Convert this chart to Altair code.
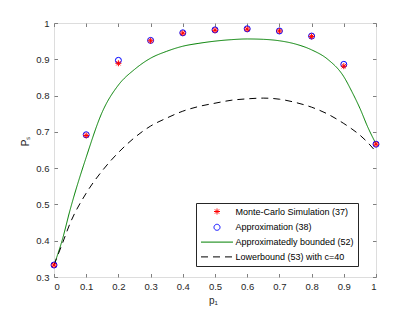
import altair as alt
import pandas as pd

# ---- data ----
S_MC = "Monte-Carlo Simulation (37)"
S_AP = "Approximation (38)"
S_GB = "Approximatedly bounded (52)"
S_LB = "Lowerbound (53) with c=40"
SERIES = [S_MC, S_AP, S_GB, S_LB]

p1_points = [0.0, 0.1, 0.2, 0.3, 0.4, 0.5, 0.6, 0.7, 0.8, 0.9, 1.0]
mc_values = [0.333, 0.690, 0.889, 0.951, 0.972, 0.980, 0.983, 0.978, 0.963, 0.881, 0.666]
approx_values = [0.333, 0.692, 0.897, 0.952, 0.973, 0.981, 0.984, 0.978, 0.964, 0.886, 0.666]

p1_curve = [0.0, 0.025, 0.05, 0.1, 0.15, 0.2, 0.25, 0.3, 0.35, 0.4, 0.45, 0.5, 0.55,
            0.6, 0.65, 0.7, 0.75, 0.8, 0.85, 0.9, 0.925, 0.95, 0.975, 1.0]
bounded_values = [0.333, 0.400, 0.485, 0.630, 0.755, 0.829, 0.872, 0.903, 0.922, 0.936,
                  0.944, 0.950, 0.954, 0.956, 0.955, 0.951, 0.942, 0.926, 0.900, 0.852,
                  0.811, 0.765, 0.712, 0.667]
lower_values = [0.333, 0.390, 0.448, 0.531, 0.593, 0.643, 0.684, 0.716, 0.738, 0.757,
                0.770, 0.779, 0.787, 0.791, 0.793, 0.790, 0.781, 0.768, 0.749, 0.723,
                0.708, 0.691, 0.670, 0.645]

x_ticks = [0, 0.1, 0.2, 0.3, 0.4, 0.5, 0.6, 0.7, 0.8, 0.9, 1]
y_ticks = [0.3, 0.4, 0.5, 0.6, 0.7, 0.8, 0.9, 1]

pts_mc = pd.DataFrame({"p1": p1_points, "Ps": mc_values, "series": S_MC})
pts_ap = pd.DataFrame({"p1": p1_points, "Ps": approx_values, "series": S_AP})
curves = pd.concat([
    pd.DataFrame({"p1": p1_curve, "Ps": bounded_values, "series": S_GB}),
    pd.DataFrame({"p1": p1_curve, "Ps": lower_values, "series": S_LB}),
])

# ---- styling ----
W, H = 322, 254
FONT = "Liberation Sans"
FRAME = "#7f7f7f"
TXT = "#262626"
ASTERISK = "M-1,0L1,0M0,-1L0,1M-0.7,-0.7L0.7,0.7M-0.7,0.7L0.7,-0.7"
LINE = "M-5.333,0L5.333,0"

legend = alt.Legend(
    title=None, orient="none", legendX=142, legendY=180,
    padding=4, rowPadding=4.8, symbolSize=36, symbolStrokeWidth=1,
    symbolOffset=12.5, labelOffset=14, labelFontSize=9, labelFont=FONT,
    labelColor="#000000", strokeColor="#262626", fillColor="#ffffff",
    cornerRadius=0, labelExpr="datum.label + '\u2003\u2003\u2003\u2002\u2009'",
)

color = alt.Color("series:N", legend=legend, scale=alt.Scale(
    domain=SERIES, range=["#ff0000", "#0000ff", "#008000", "#000000"]))
shape = alt.Shape("series:N", legend=legend, scale=alt.Scale(
    domain=SERIES, range=[ASTERISK, "circle", LINE, LINE]))
dash = alt.StrokeDash("series:N", legend=legend, scale=alt.Scale(
    domain=SERIES, range=[[1, 0], [1, 0], [1, 0], [7, 5]]))

x_enc = alt.X("p1:Q", scale=alt.Scale(domain=[0, 1], nice=False, zero=False),
              axis=alt.Axis(values=x_ticks, format="~g", title="p\u2081",
                            ticks=False, tickSize=0, domain=False,
                            labelPadding=4, labelFontSize=9.5, labelFont=FONT,
                            labelColor=TXT, titleFont=FONT, titleFontSize=10,
                            titleFontWeight="normal", titleColor=TXT,
                            titleX=159, titleY=26.5, titleBaseline="alphabetic",
                            titleAlign="center",
                            grid=True, gridColor=FRAME, gridWidth=1, gridOpacity=1,
                            gridDash=[3.5, H - 7, 3.5, 2000]))
y_enc = alt.Y("Ps:Q", scale=alt.Scale(domain=[0.3, 1], nice=False, zero=False),
              axis=alt.Axis(values=y_ticks, format="~g", title="P\u209b",
                            ticks=False, tickSize=0, domain=False,
                            labelPadding=5, labelFontSize=9.5, labelFont=FONT,
                            labelColor=TXT, titleFont=FONT, titleFontSize=10,
                            titleFontWeight="normal", titleColor=TXT,
                            titleX=-26, titleY=118, titleBaseline="alphabetic",
                            titleAlign="center", titleAngle=270,
                            grid=True, gridColor=FRAME, gridWidth=1, gridOpacity=1,
                            gridDash=[3.5, W - 7, 3.5, 2000]))

lines = alt.Chart(curves).mark_line(strokeWidth=1, interpolate="monotone").encode(
    x=x_enc, y=y_enc, color=color, strokeDash=dash, detail="series:N")

approx = alt.Chart(pts_ap).mark_point(filled=False, size=36, strokeWidth=1, opacity=1).encode(
    x=x_enc, y=y_enc, color=color, shape=shape)

mc = alt.Chart(pts_mc).mark_point(filled=False, size=36, strokeWidth=1, opacity=1).encode(
    x=x_enc, y=y_enc, color=color, shape=shape)

chart = alt.layer(lines, approx, mc).properties(
    width=W, height=H,
    autosize=alt.AutoSizeParams(type="none"),
    padding={"left": 46, "top": 15, "right": 30, "bottom": 32},
).configure_view(stroke=FRAME, strokeWidth=1).configure(background="white")

chart.save("out.html", embed_options={"renderer": "svg", "actions": False})
